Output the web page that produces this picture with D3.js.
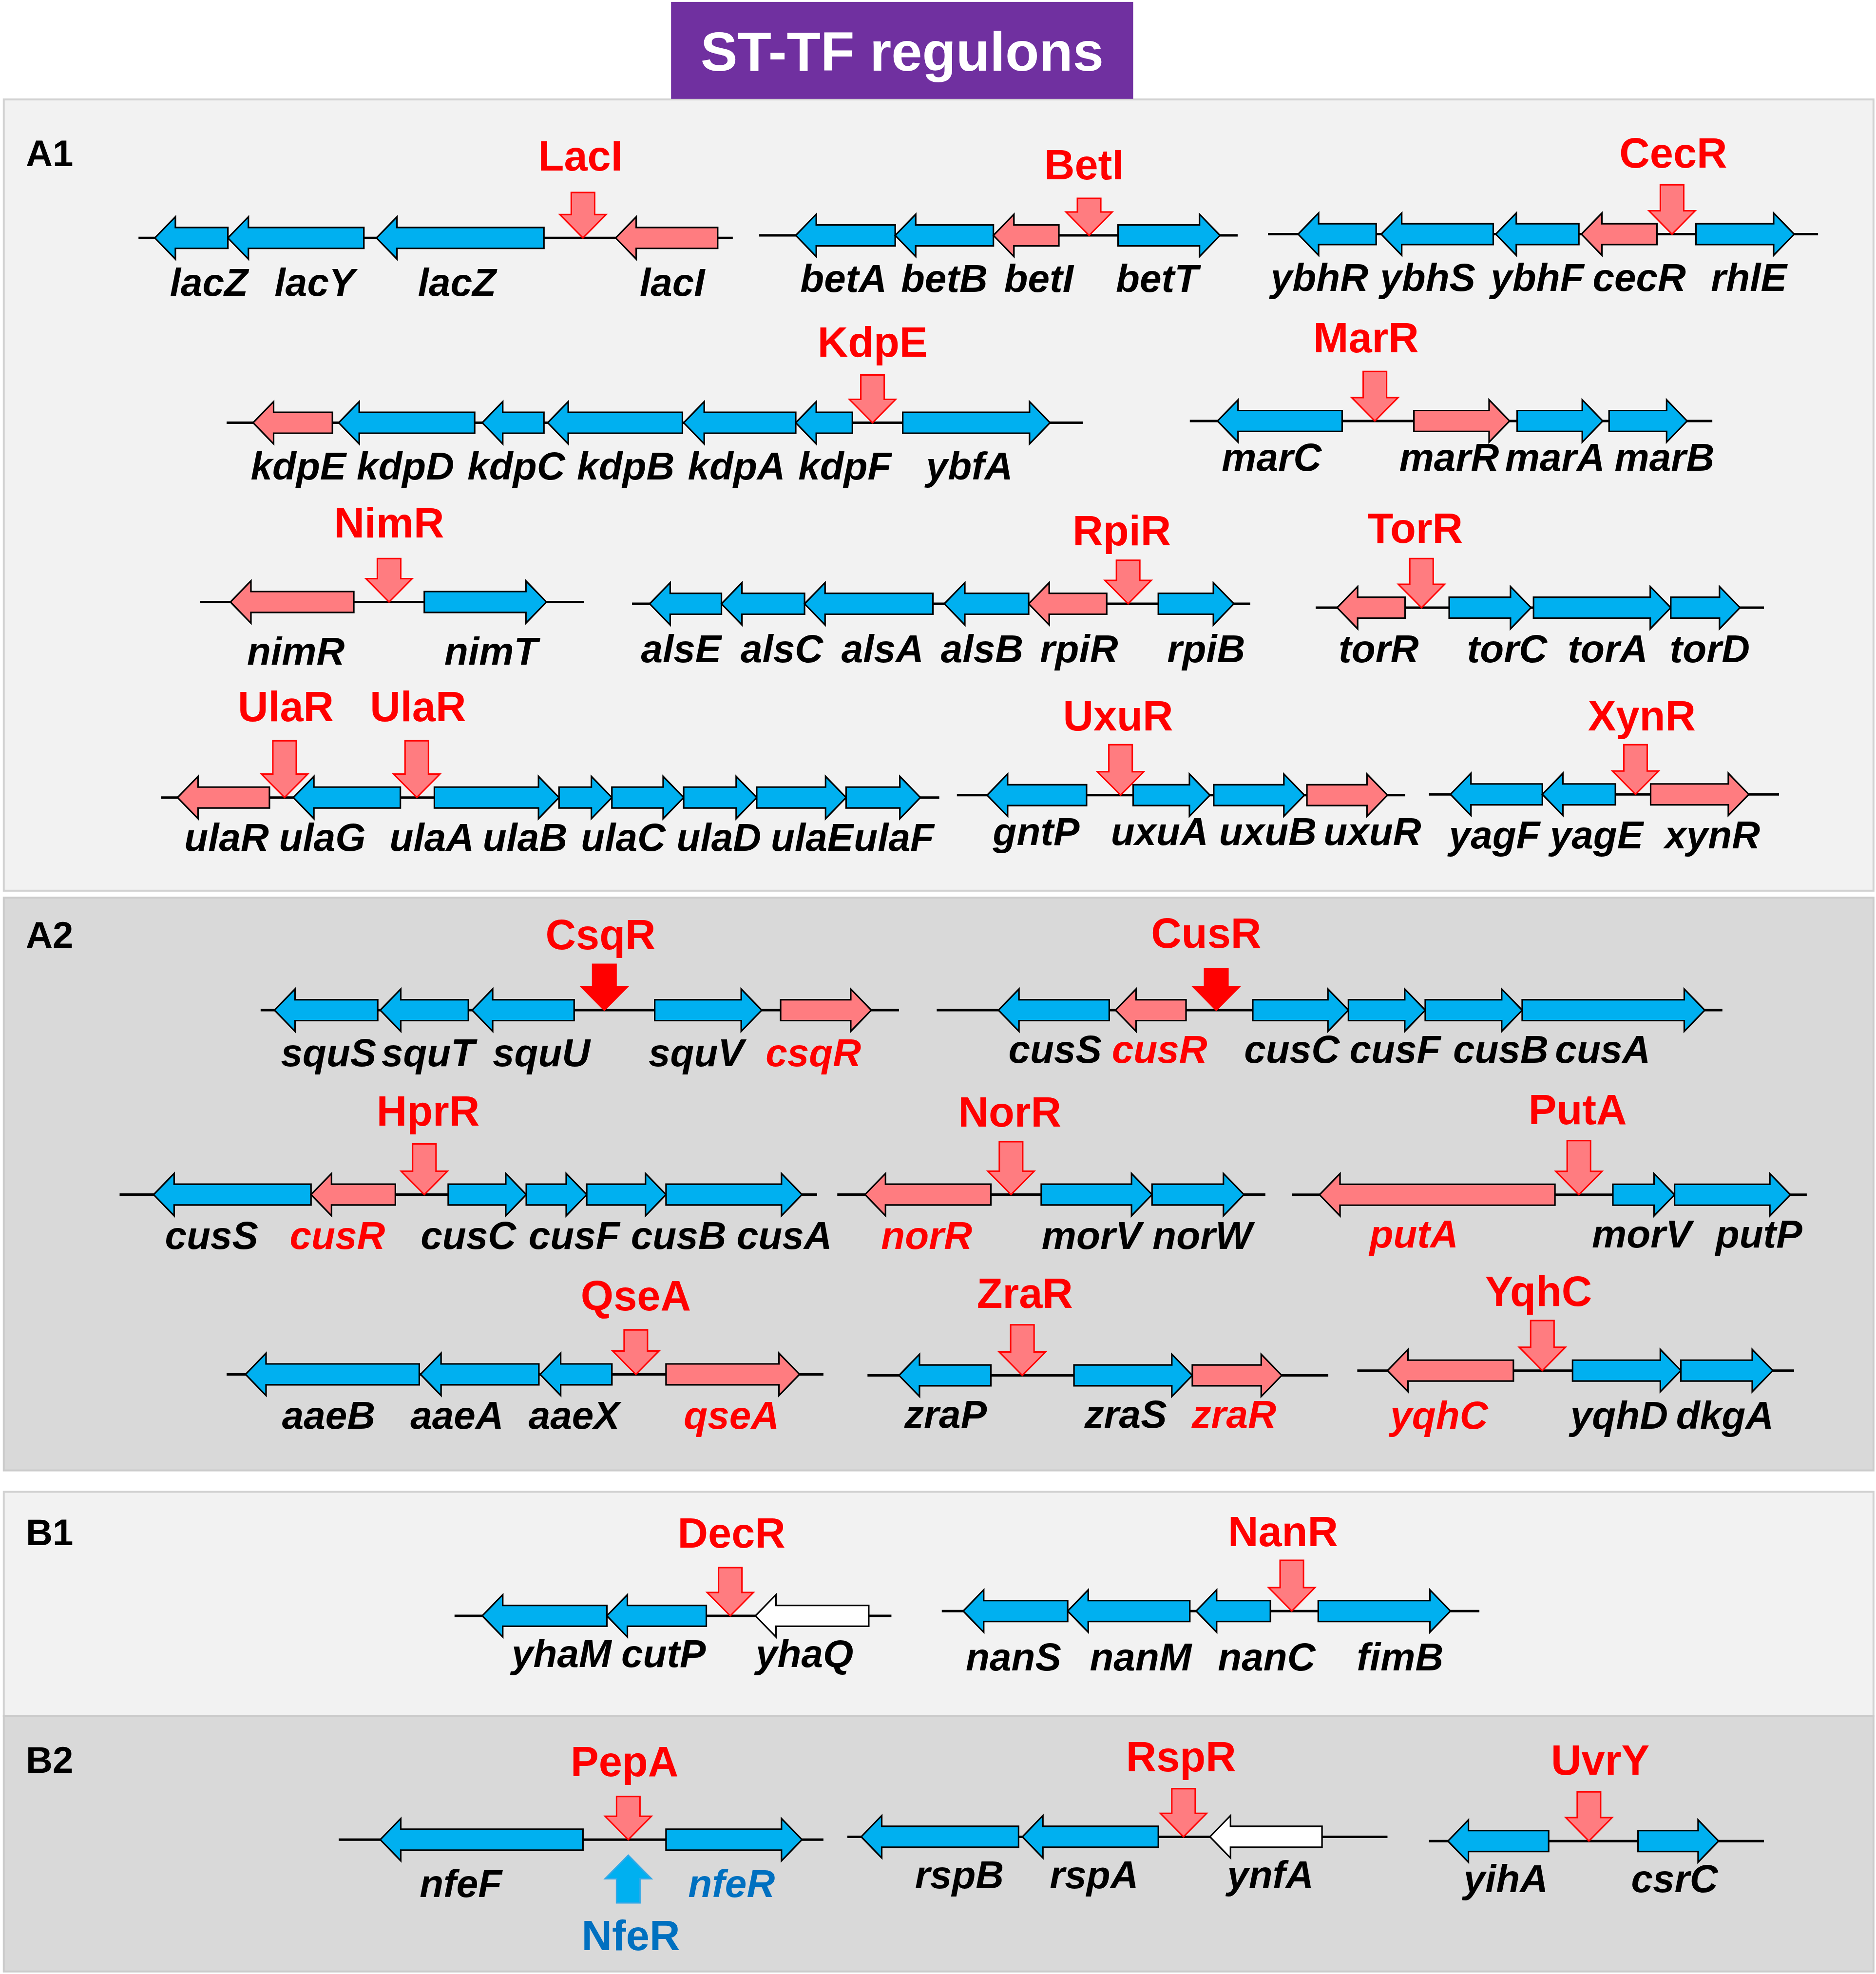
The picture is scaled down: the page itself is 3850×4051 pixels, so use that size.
<!DOCTYPE html>
<html>
<head>
<meta charset="utf-8">
<script src="https://cdn.jsdelivr.net/npm/d3@7"></script>
<style>
  body { margin: 0; background: #fff; }
  svg text { font-family: "Liberation Sans", Arial, sans-serif; font-weight: bold; }
</style>
</head>
<body>
<div id="chart"></div>
<script>

const panels = [
  { id: "A1", top: 79, bottom: 707.5, base: 132, tone: "light" },
  { id: "A2", top: 713, bottom: 1168, base: 752.7, tone: "dark" },
  { id: "B1", top: 1185, bottom: 1363, base: 1227.5, tone: "light" },
  { id: "B2", top: 1363, bottom: 1566, base: 1408, tone: "dark" }
];

// gene = [name, tail, tip, role, label x]; role t = target, r = regulator gene, n = not bound
const operonsA1 = [
  { tf: [["LacI", 463, 461]], line: [110, 582], y: 189, labelY: 235, tfY: 135.6, top: 152.9,
    genes: [["lacZ", 181, 123, "t", 166], ["lacY", 289, 181, "t", 250], ["lacZ", 432, 299, "t", 363], ["lacI", 570, 489, "r", 534]] },
  { tf: [["BetI", 865, 861]], line: [603, 983], y: 187, labelY: 232, tfY: 142.5, top: 157.5,
    genes: [["betA", 711, 632, "t", 670], ["betB", 789, 711, "t", 750], ["betI", 841, 789, "r", 825], ["betT", 888, 969, "t", 919]] },
  { tf: [["CecR", 1328, 1329]], line: [1007, 1444], y: 186, labelY: 231, tfY: 133, top: 146.8,
    genes: [["ybhR", 1093, 1031, "t", 1048], ["ybhS", 1186, 1097, "t", 1134], ["ybhF", 1254, 1188, "t", 1221],
            ["cecR", 1316, 1256, "r", 1302], ["rhlE", 1347, 1425, "t", 1389]] },
  { tf: [["KdpE", 693, 693]], line: [180, 860], y: 335.8, labelY: 381, tfY: 283.5, top: 297.8,
    genes: [["kdpE", 264, 201, "r", 237], ["kdpD", 377, 269, "t", 322], ["kdpC", 432, 383, "t", 410], ["kdpB", 542, 435, "t", 497],
            ["kdpA", 632, 543, "t", 585], ["kdpF", 677, 632, "t", 671], ["ybfA", 717, 834, "t", 770]] },
  { tf: [["MarR", 1092, 1085]], line: [945, 1360], y: 334.4, labelY: 374, tfY: 280, top: 295,
    genes: [["marC", 1066, 967, "t", 1010], ["marR", 1123, 1199, "r", 1151], ["marA", 1205, 1273, "t", 1235], ["marB", 1278, 1340, "t", 1322]] },
  { tf: [["NimR", 309, 309]], line: [159, 464], y: 478.2, labelY: 528, tfY: 427, top: 443.7,
    genes: [["nimR", 281, 183, "r", 235], ["nimT", 337, 434, "t", 390]] },
  { tf: [["RpiR", 896, 891]], line: [502, 993], y: 479.6, labelY: 526, tfY: 433, top: 445,
    genes: [["alsE", 573, 516, "t", 541], ["alsC", 639, 573, "t", 621], ["alsA", 741, 639, "t", 701], ["alsB", 817, 750, "t", 780],
            ["rpiR", 879, 817, "r", 857], ["rpiB", 920, 980, "t", 958]] },
  { tf: [["TorR", 1129, 1124]], line: [1045, 1401], y: 482.7, labelY: 526, tfY: 431, top: 443.7,
    genes: [["torR", 1116, 1062, "r", 1095], ["torC", 1151, 1216, "t", 1197], ["torA", 1218, 1327, "t", 1277], ["torD", 1327, 1382, "t", 1358]] },
  { tf: [["UlaR", 226, 227], ["UlaR", 331, 332]], line: [128, 746], y: 633.5, labelY: 676, tfY: 573, top: 588.4,
    genes: [["ulaR", 214, 141, "r", 180], ["ulaG", 318, 233, "t", 256], ["ulaA", 345, 444, "t", 343], ["ulaB", 444, 486, "t", 417],
            ["ulaC", 486, 543, "t", 495], ["ulaD", 543, 601, "t", 571], ["ulaE", 601, 672, "t", 645], ["ulaF", 672, 731, "t", 710]] },
  { tf: [["UxuR", 890, 888]], line: [760, 1116], y: 631.6, labelY: 671, tfY: 580.4, top: 591.5,
    genes: [["gntP", 863, 784, "t", 823], ["uxuA", 900, 961, "t", 921], ["uxuB", 964, 1036, "t", 1007], ["uxuR", 1038, 1102, "r", 1090]] },
  { tf: [["XynR", 1299, 1304]], line: [1135, 1413], y: 631, labelY: 674, tfY: 580.4, top: 591.5,
    genes: [["yagF", 1225, 1152, "t", 1187], ["yagE", 1283, 1225, "t", 1268], ["xynR", 1311, 1389, "r", 1360]] }
];

const operonsA2 = [
  { tf: [["CsqR", 480, 477]], strong: true, line: [207, 714], y: 802.4, labelY: 847, tfY: 754, top: 766,
    genes: [["squS", 300, 218, "t", 261], ["squT", 372, 302, "t", 340], ["squU", 456, 375, "t", 430],
            ["squV", 520, 605, "t", 553], ["csqR", 620, 692, "r", 646]] },
  { tf: [["CusR", 966, 958]], strong: true, line: [744, 1368], y: 802.4, labelY: 844, tfY: 753, top: 769.5,
    genes: [["cusS", 881, 793, "t", 838], ["cusR", 942, 886, "r", 921], ["cusC", 995, 1071, "t", 1026], ["cusF", 1071, 1132, "t", 1108],
            ["cusB", 1132, 1209, "t", 1192], ["cusA", 1209, 1354, "t", 1273]] },
  { tf: [["HprR", 337, 340]], line: [95, 649], y: 948.9, labelY: 992, tfY: 894, top: 908.6,
    genes: [["cusS", 247, 122, "t", 168], ["cusR", 314, 247, "r", 268], ["cusC", 356, 418, "t", 372], ["cusF", 418, 466, "t", 456],
            ["cusB", 466, 529, "t", 539], ["cusA", 529, 637, "t", 623]] },
  { tf: [["NorR", 803, 802]], line: [665, 1005], y: 948.9, labelY: 992, tfY: 894.8, top: 906.9,
    genes: [["norR", 787, 687, "r", 736], ["morV", 827, 915, "t", 867], ["norW", 915, 988, "t", 955]] },
  { tf: [["PutA", 1254, 1253]], line: [1026, 1435], y: 949, labelY: 991, tfY: 893, top: 906,
    genes: [["putA", 1235, 1048, "r", 1123], ["morV", 1281, 1330, "t", 1304], ["putP", 1330, 1422, "t", 1397]] },
  { tf: [["QseA", 505, 505]], line: [180, 654], y: 1091.7, labelY: 1135, tfY: 1040.8, top: 1056.4,
    genes: [["aaeB", 333, 195, "t", 261], ["aaeA", 428, 334, "t", 363], ["aaeX", 486, 429, "t", 456], ["qseA", 529, 635, "r", 581]] },
  { tf: [["ZraR", 812, 814]], line: [689, 1055], y: 1092.5, labelY: 1134, tfY: 1038.7, top: 1052.3,
    genes: [["zraP", 787, 714, "t", 751], ["zraS", 853, 947, "t", 894], ["zraR", 947, 1018, "r", 980]] },
  { tf: [["YqhC", 1225, 1222]], line: [1078, 1425], y: 1088.7, labelY: 1135, tfY: 1037.4, top: 1048.9,
    genes: [["yqhC", 1202, 1102, "r", 1143], ["yqhD", 1249, 1335, "t", 1286], ["dkgA", 1335, 1408, "t", 1370]] }
];

const operonsB1 = [
  { tf: [["DecR", 580, 581]], line: [361, 708], y: 1283.5, labelY: 1324, tfY: 1229.3, top: 1245.2,
    genes: [["yhaM", 482, 383, "t", 446], ["cutP", 561, 482, "t", 527], ["yhaQ", 690, 600, "n", 639]] },
  { tf: [["NanR", 1026, 1019]], line: [748, 1175], y: 1279.7, labelY: 1327, tfY: 1228, top: 1239.4,
    genes: [["nanS", 848, 765, "t", 805], ["nanM", 945, 848, "t", 906], ["nanC", 1009, 950, "t", 1006], ["fimB", 1047, 1152, "t", 1112]] }
];

const operonsB2 = [
  { tf: [["PepA", 499, 496]], up: ["NfeR", 499, 501], line: [269, 654], y: 1461.3, labelY: 1507, tfY: 1410.7, top: 1427,
    genes: [["nfeF", 463, 302, "t", 366], ["nfeR", 529, 637, "t", 581]] },
  { tf: [["RspR", 940, 938]], line: [673, 1102], y: 1459, labelY: 1500, tfY: 1407, top: 1420.8,
    genes: [["rspB", 809, 684, "t", 762], ["rspA", 920, 812, "t", 869], ["ynfA", 1050, 961, "n", 1009]] },
  { tf: [["UvrY", 1262, 1271]], line: [1135, 1401], y: 1462.4, labelY: 1503, tfY: 1409.5, top: 1423.3,
    genes: [["yihA", 1230, 1150, "t", 1196], ["csrC", 1301, 1365, "t", 1330]] }
];

// gene names printed in the regulator colour
const redGeneLabels = ["csqR", "cusR", "norR", "putA", "qseA", "zraR", "yqhC"];
const blueGeneLabels = ["nfeR"];

const title = "ST-TF regulons";

// ---------------------------------------------------------------
const W = 3850, H = 4051;
const x = d3.scaleLinear().domain([0, 1490]).range([0, W]);
const y = d3.scaleLinear().domain([0, 1568]).range([0, H]);
const k = W / 1490;

const roleFill = { t: "#00B0F0", r: "#FF7C80", n: "#FFFFFF" };
const toneFill = { light: "#F2F2F2", dark: "#D9D9D9" };

const gene = { body: 8.3, head: 16.8, len: 16.3 };
const tfArrow = { shaft: 9.3, head: 18.4, len: 18.6 };

const svg = d3.select("#chart").append("svg")
    .attr("width", W)
    .attr("height", H)
    .attr("viewBox", `0 0 ${W} ${H}`);

svg.append("rect").attr("width", W).attr("height", H).attr("fill", "#fff");

// panels
const pg = svg.append("g");
pg.selectAll("rect")
  .data(panels)
  .enter().append("rect")
    .attr("x", x(3))
    .attr("y", d => y(d.top))
    .attr("width", x(1488) - x(3))
    .attr("height", d => y(d.bottom) - y(d.top))
    .attr("fill", d => toneFill[d.tone])
    .attr("stroke", d => d.tone === "light" ? "#D2D2D2" : "#CBCBCB")
    .attr("stroke-width", 4);

pg.selectAll("text")
  .data(panels)
  .enter().append("text")
    .attr("x", x(20.5))
    .attr("y", d => y(d.base))
    .style("font-size", (29.5 * k) + "px")
    .attr("fill", "#000")
    .text(d => d.id);

// title
svg.append("rect")
    .attr("x", x(533)).attr("y", y(1.5))
    .attr("width", x(900) - x(533)).attr("height", y(78.5) - y(1.5))
    .attr("fill", "#7030A0");
svg.append("text")
    .attr("x", x(716.5)).attr("y", y(56))
    .attr("text-anchor", "middle")
    .style("font-size", (44 * k) + "px")
    .attr("fill", "#fff")
    .text(title);

function genePoints(tail, tip, yc) {
  const dir = tip > tail ? 1 : -1;
  const hb = tip - dir * gene.len;
  return [
    [tail, yc - gene.body], [hb, yc - gene.body], [hb, yc - gene.head], [tip, yc],
    [hb, yc + gene.head], [hb, yc + gene.body], [tail, yc + gene.body]
  ].map(p => [x(p[0]), y(p[1])].join(",")).join(" ");
}

// vertical block arrow, from "from" (tail) to "to" (tip)
function tfPoints(cx, from, to) {
  const dir = to > from ? 1 : -1;
  const hb = to - dir * tfArrow.len;
  return [
    [cx - tfArrow.shaft, from], [cx + tfArrow.shaft, from], [cx + tfArrow.shaft, hb], [cx + tfArrow.head, hb],
    [cx, to], [cx - tfArrow.head, hb], [cx - tfArrow.shaft, hb]
  ].map(p => [x(p[0]), y(p[1])].join(",")).join(" ");
}

function labelColour(name) {
  if (redGeneLabels.includes(name)) return "#FF0000";
  if (blueGeneLabels.includes(name)) return "#0070C0";
  return "#000";
}

const allOperons = [].concat(operonsA1, operonsA2, operonsB1, operonsB2);

const og = svg.append("g").selectAll("g")
  .data(allOperons)
  .enter().append("g");

// backbone line
og.append("line")
    .attr("x1", d => x(d.line[0]))
    .attr("x2", d => x(d.line[1]))
    .attr("y1", d => y(d.y))
    .attr("y2", d => y(d.y))
    .attr("stroke", "#000")
    .attr("stroke-width", 5);

// genes
og.each(function(op) {
  const g = d3.select(this);
  g.selectAll("polygon.gene")
    .data(op.genes)
    .enter().append("polygon")
      .attr("class", "gene")
      .attr("points", d => genePoints(d[1], d[2], op.y))
      .attr("fill", d => roleFill[d[3]])
      .attr("stroke", "#000")
      .attr("stroke-width", 3.2)
      .attr("stroke-linejoin", "miter");

  g.selectAll("text.gene")
    .data(op.genes)
    .enter().append("text")
      .attr("class", "gene")
      .attr("x", d => x(d[4]))
      .attr("y", y(op.labelY))
      .attr("text-anchor", "middle")
      .style("font-style", "italic")
      .style("font-size", (31 * k) + "px")
      .attr("fill", d => labelColour(d[0]))
      .text(d => d[0]);

  // binding regulators
  g.selectAll("polygon.tf")
    .data(op.tf)
    .enter().append("polygon")
      .attr("class", "tf")
      .attr("points", d => tfPoints(d[1], op.top, op.y))
      .attr("fill", op.strong ? "#FF0000" : "#FF7C80")
      .attr("stroke", "#FF0000")
      .attr("stroke-width", 3);

  g.selectAll("text.tf")
    .data(op.tf)
    .enter().append("text")
      .attr("class", "tf")
      .attr("x", d => x(d[2]))
      .attr("y", y(op.tfY))
      .attr("text-anchor", "middle")
      .style("font-size", (33.5 * k) + "px")
      .attr("fill", "#FF0000")
      .text(d => d[0]);

  if (op.up) {
    g.append("polygon")
      .attr("points", tfPoints(op.up[1], 1511.5, 1473.7))
      .attr("fill", "#00B0F0")
      .attr("stroke", "#2FA8E8")
      .attr("stroke-width", 3);
    g.append("text")
      .attr("x", x(op.up[2]))
      .attr("y", y(1549))
      .attr("text-anchor", "middle")
      .style("font-size", (33.5 * k) + "px")
      .attr("fill", "#0070C0")
      .text(op.up[0]);
  }
});
</script>
</body>
</html>
